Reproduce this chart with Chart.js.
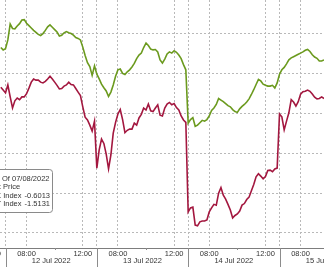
<!DOCTYPE html>
<html>
<head>
<meta charset="utf-8">
<script src="https://cdn.jsdelivr.net/npm/chart.js@4.4.0/dist/chart.umd.min.js"></script>
<style>
  html, body { margin: 0; padding: 0; background: #fff; }
  #chart { display: block; }
</style>
</head>
<body>
<canvas id="chart" width="324" height="267"></canvas>
<script>
// readings every 10 trading minutes, first one 20 min before the 12 Jul open
const firstSample = -20;
const sampleStep = 10;

const greenSeries = [
  -0.34, -0.40,
  // 12 Jul
  -0.37, -0.15, 0.25, 0.14, 0.13, 0.20, 0.26, 0.35, 0.36, 0.27,
  0.21, 0.15, 0.09, 0.04, -0.01, -0.04, 0.01, 0.09, 0.18, 0.23,
  0.17, 0.11, 0.05, -0.05, -0.03, 0.03, 0.06, 0.03, 0.01, -0.03,
  -0.09, -0.11, -0.15, -0.33, -0.54, -0.72, -0.82, -1.04, -0.80,
  // 13 Jul
  -1.01, -1.13, -1.26, -1.35, -1.43, -1.57, -1.46, -1.28, -1.06, -0.90,
  -0.88, -0.99, -1.02, -0.95, -0.90, -0.83, -0.74, -0.62, -0.53, -0.48,
  -0.34, -0.23, -0.29, -0.38, -0.40, -0.39, -0.45, -0.65, -0.73, -0.63,
  -0.50, -0.45, -0.48, -0.42, -0.46, -0.53, -0.62, -0.77, -0.90,
  // 14 Jul
  -2.24, -2.15, -2.10, -2.32, -2.29, -2.23, -2.17, -2.19, -2.15, -2.06,
  -1.92, -1.86, -1.77, -1.62, -1.66, -1.70, -1.75, -1.80, -1.83, -1.90,
  -1.95, -1.97, -1.88, -1.82, -1.77, -1.71, -1.63, -1.52, -1.40, -1.27,
  -1.14, -1.18, -1.26, -1.29, -1.31, -1.31, -1.29, -1.36, -1.23,
  // 15 Jul
  -1.01, -0.90, -0.84, -0.75, -0.65, -0.60, -0.57, -0.54, -0.51, -0.48,
  -0.45, -0.41, -0.39, -0.44, -0.52, -0.58, -0.61, -0.68, -0.68, -0.65
];

const redSeries = [
  -1.34, -1.41,
  // 12 Jul
  -1.48, -1.28, -1.58, -1.86, -1.68, -1.61, -1.65, -1.58, -1.58, -1.50,
  -1.36, -1.21, -1.13, -1.16, -1.16, -1.21, -1.23, -1.19, -1.13, -1.06,
  -1.13, -1.21, -1.29, -1.38, -1.37, -1.31, -1.28, -1.21, -1.27, -1.28,
  -1.37, -1.46, -1.55, -1.83, -2.09, -2.16, -2.29, -2.44, -2.19,
  // 13 Jul
  -3.37, -2.91, -2.64, -2.75, -3.02, -3.39, -3.04, -2.49, -2.22, -2.01,
  -1.90, -2.15, -2.48, -2.42, -2.39, -2.39, -2.24, -2.29, -2.11, -2.02,
  -1.86, -1.91, -1.76, -1.93, -1.95, -1.86, -1.78, -2.04, -2.06, -1.86,
  -1.76, -1.72, -1.78, -1.75, -1.85, -1.91, -2.06, -2.16, -2.22,
  // 14 Jul
  -4.47, -4.37, -4.35, -4.80, -4.82, -4.72, -4.70, -4.70, -4.67, -4.47,
  -4.37, -4.28, -4.30, -4.00, -3.86, -4.05, -4.15, -4.28, -4.42, -4.62,
  -4.56, -4.52, -4.45, -4.30, -4.26, -4.16, -4.10, -3.94, -3.78, -3.59,
  -3.51, -3.57, -3.64, -3.58, -3.43, -3.42, -3.46, -3.39, -3.37,
  // 15 Jul
  -2.01, -2.08, -2.41, -2.19, -1.98, -1.65, -1.71, -1.81, -1.70, -1.51,
  -1.45, -1.44, -1.41, -1.44, -1.51, -1.59, -1.63, -1.62, -1.58, -1.62
];

const seriesNames = ['SPX Index', 'RTY Index'];
const lastValues = ['-0.6013', '-1.5131'];
const seriesColors = ['#6b9a1e', '#a3173f'];

const dayLabels = ['11 Jul 2022', '12 Jul 2022', '13 Jul 2022', '14 Jul 2022', '15 Jul 2022'];
const hourLabels = ['08:00', '12:00'];
const hourOffsets = [90, 330];   // minutes after the 06:30 open
const minorOffsets = [210];      // 10:00
const sessionLength = 390;

const legendTitle = 'Normalized Percent Change As Of 07/08/2022';
const legendSubtitle = 'Last Price';

const font = '7.5px "Liberation Sans", Arial, sans-serif';
const times = greenSeries.map((_, i) => firstSample + i * sampleStep);

const labelsPlugin = {
  id: 'labelsPlugin',
  afterDraw(chart) {
    const { ctx, chartArea } = chart;
    const xs = chart.scales.x;
    ctx.save();
    ctx.font = font;
    ctx.textBaseline = 'middle';
    ctx.textAlign = 'center';
    ctx.lineWidth = 1;

    // day separators, minor ticks and axis labels
    dayLabels.forEach((label, i) => {
      const open = (i - 1) * sessionLength;
      const sx = Math.round(xs.getPixelForValue(open)) + 0.5;
      ctx.strokeStyle = '#8c8c8c';
      ctx.beginPath();
      ctx.moveTo(sx, chartArea.bottom);
      ctx.lineTo(sx, chart.height);
      ctx.stroke();
      minorOffsets.forEach(m => {
        const mx = Math.round(xs.getPixelForValue(open + m)) + 0.5;
        ctx.beginPath();
        ctx.moveTo(mx, chartArea.bottom);
        ctx.lineTo(mx, chartArea.bottom + 2);
        ctx.stroke();
      });
      ctx.fillStyle = '#333';
      hourLabels.forEach((h, j) => {
        ctx.fillText(h, xs.getPixelForValue(open + hourOffsets[j]), chartArea.bottom + 5.5);
      });
      ctx.fillText(label, xs.getPixelForValue(open + sessionLength / 2), chartArea.bottom + 13);
    });

    // legend box (cut by the left edge like the source)
    ctx.beginPath();
    ctx.roundRect(-90.5, 169.5, 143, 43, 3);
    ctx.fillStyle = '#fff';
    ctx.fill();
    ctx.strokeStyle = '#8a8a8a';
    ctx.stroke();

    ctx.fillStyle = '#333';
    ctx.textAlign = 'right';
    ctx.fillText(legendTitle, 49.5, 178.5);
    const lastWord = legendSubtitle.split(' ').pop();
    ctx.fillText(legendSubtitle, 3 + ctx.measureText(lastWord).width, 187);

    seriesNames.forEach((name, i) => {
      const y = 195.5 + i * 8.5;
      const w = ctx.measureText(name).width;
      ctx.fillStyle = seriesColors[i];
      ctx.fillRect(21.5 - w - 8, y - 2.5, 5, 5);
      ctx.fillStyle = '#333';
      ctx.fillText(name, 21.5, y);
      ctx.fillText(lastValues[i], 50, y);
    });
    ctx.restore();
  }
};

new Chart(document.getElementById('chart'), {
  type: 'line',
  data: {
    datasets: [
      {
        label: seriesNames[0],
        data: times.map((t, i) => ({ x: t, y: greenSeries[i] })),
        borderColor: seriesColors[0],
        borderWidth: 1.6,
        pointRadius: 0,
        tension: 0
      },
      {
        label: seriesNames[1],
        data: times.map((t, i) => ({ x: t, y: redSeries[i] })),
        borderColor: seriesColors[1],
        borderWidth: 1.6,
        pointRadius: 0,
        tension: 0
      }
    ]
  },
  options: {
    responsive: false,
    animation: false,
    layout: { padding: { top: 0, left: 0, right: 0, bottom: 19 } },
    plugins: { legend: { display: false }, tooltip: { enabled: false } },
    scales: {
      x: {
        type: 'linear',
        min: -23.5,
        max: 1360,
        afterBuildTicks: scale => {
          const ticks = [];
          dayLabels.forEach((_, i) => {
            const open = (i - 1) * sessionLength;
            [0, ...hourOffsets].forEach(o => {
              const v = open + o;
              if (v >= scale.min && v <= scale.max) ticks.push({ value: v });
            });
          });
          scale.ticks = ticks;
        },
        ticks: { display: false },
        grid: { color: '#b9b9b9', lineWidth: 1, drawTicks: false },
        border: { display: true, color: '#7d7d7d', width: 1, dash: [2, 2] }
      },
      y: {
        position: 'right',
        min: -5.377,
        max: 0.854,
        ticks: { display: false, stepSize: 1, includeBounds: false },
        grid: { color: '#b9b9b9', lineWidth: 1, drawTicks: false },
        border: { display: false, dash: [2, 2] }
      }
    }
  },
  plugins: [labelsPlugin]
});
</script>
</body>
</html>
